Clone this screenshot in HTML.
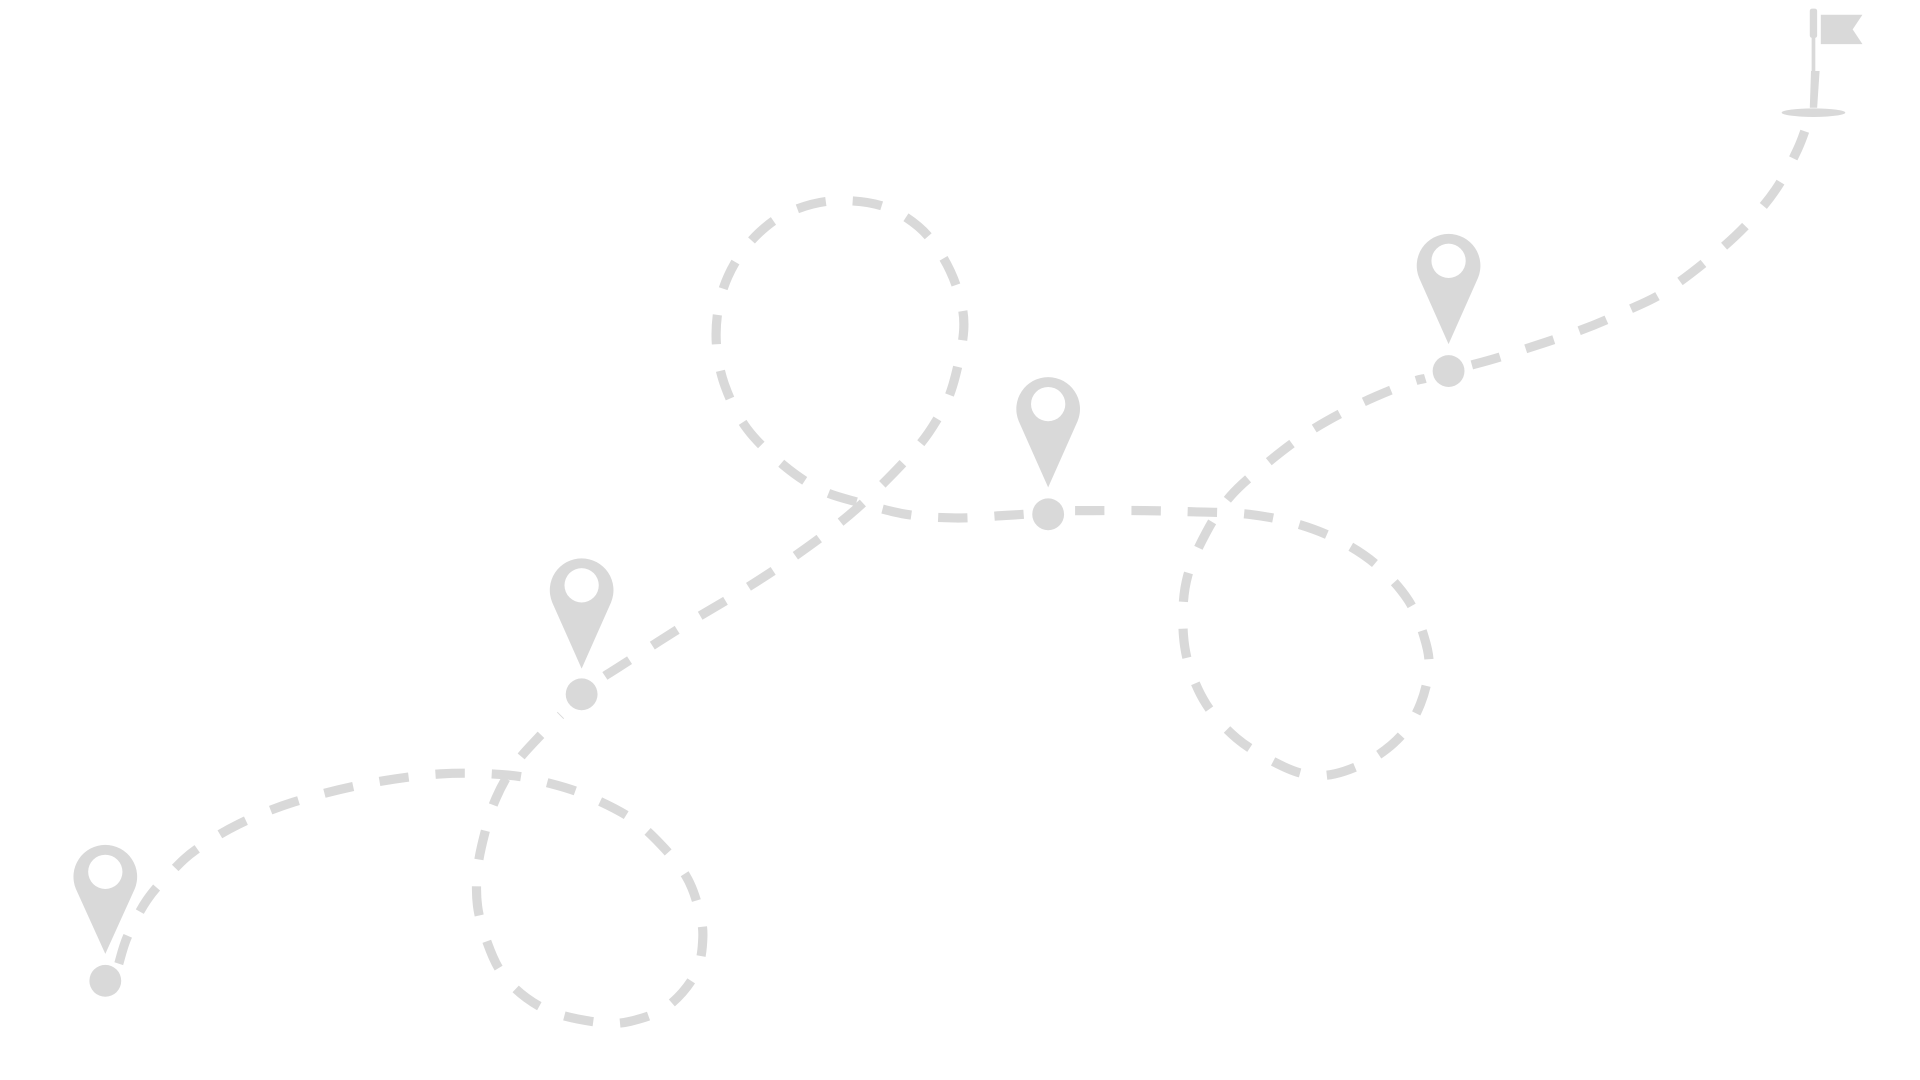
<!DOCTYPE html>
<html><head><meta charset="utf-8"><style>html,body{margin:0;padding:0;background:#fff;width:1920px;height:1080px;overflow:hidden}</style></head>
<body>
<svg width="1920" height="1080" viewBox="0 0 1568 882" preserveAspectRatio="none" xmlns="http://www.w3.org/2000/svg">
<g id="paths" fill="none" stroke="#d9d9d9" stroke-width="7.5" stroke-dasharray="24 22" stroke-linejoin="round">
<polyline points="97,787 104,765 120,735 140,712 160,694 195,673 240,655 300,640 360,632 415,633 450,640 480,650 515,668 540,690 560,715 570,740 574,765 568,795 545,822 515,834 490,835 455,828 430,815 410,795 398,770 390,740 390,710 396,680 405,652 420,625 440,602 458,584"/>
<polyline points="494,552 505,545 560,510 610,480 655,450 700,415 745,370 765,343 778,315 787,270 783,240 770,210 750,185 720,168 680,164 645,173 620,190 600,215 588,245 585,280 592,315 610,350 640,380 670,400 700,410 740,420 780,423 820,421 836,420"/>
<polyline points="878,417 890,417 935,417 975,418 1020,420 1060,428 1095,442 1125,462 1150,490 1163,520 1167,545 1160,575 1145,600 1120,620 1090,632 1065,632 1040,622 1010,603 985,575 970,540 966,505 970,470 985,435 1005,405 1035,378 1070,352 1110,330 1150,313 1164,309"/>
<polyline points="1202,298 1230,290 1290,270 1330,253 1360,238 1395,212 1425,185 1450,155 1468,122 1478,95"/>
</g>
<g fill="#d9d9d9" fill-rule="evenodd">
<path d="M62,726 A26,26 0 1 1 110,726 L86,779 Z M100,712 A14,14 0 1 0 72,712 A14,14 0 1 0 100,712 Z"/>
<circle cx="86" cy="801" r="13"/>
<path d="M451,492 A26,26 0 1 1 499,492 L475,546 Z M489,478 A14,14 0 1 0 461,478 A14,14 0 1 0 489,478 Z"/>
<circle cx="475" cy="567" r="13"/>
<path d="M832,344 A26,26 0 1 1 880,344 L856,398 Z M870,330 A14,14 0 1 0 842,330 A14,14 0 1 0 870,330 Z"/>
<circle cx="856" cy="420" r="13"/>
<path d="M1159,227 A26,26 0 1 1 1207,227 L1183,281 Z M1197,213 A14,14 0 1 0 1169,213 A14,14 0 1 0 1197,213 Z"/>
<circle cx="1183" cy="303" r="13"/>
<rect x="1478" y="7" width="6" height="24" rx="2"/>
<rect x="1479.5" y="30" width="3" height="28"/>
<path d="M1479,58 L1486,58 L1484,88 L1478,88 Z"/>
<polygon points="1487,12 1521,12 1513,24 1521,36 1487,36"/>
<ellipse cx="1481" cy="92" rx="26" ry="3.5"/>
</g>
</svg>
<script>
(function(){
var NS="http://www.w3.org/2000/svg";
var g=document.getElementById("paths");
var pls=Array.prototype.slice.call(g.querySelectorAll("polyline"));
pls.forEach(function(pl){
var p=pl.getAttribute("points").trim().split(/\s+/).map(function(s){var a=s.split(",");return [+a[0],+a[1]];});
var d="M"+p[0][0]+","+p[0][1];
for(var i=0;i<p.length-1;i++){
var p0=p[i-1]||p[i],p1=p[i],p2=p[i+1],p3=p[i+2]||p[i+1];
var c1=[p1[0]+(p2[0]-p0[0])/6,p1[1]+(p2[1]-p0[1])/6];
var c2=[p2[0]-(p3[0]-p1[0])/6,p2[1]-(p3[1]-p1[1])/6];
d+=" C"+c1[0].toFixed(1)+","+c1[1].toFixed(1)+" "+c2[0].toFixed(1)+","+c2[1].toFixed(1)+" "+p2[0]+","+p2[1];
}
var path=document.createElementNS(NS,"path");
path.setAttribute("d",d);
g.replaceChild(path,pl);
});
})();
</script>
</body></html>
